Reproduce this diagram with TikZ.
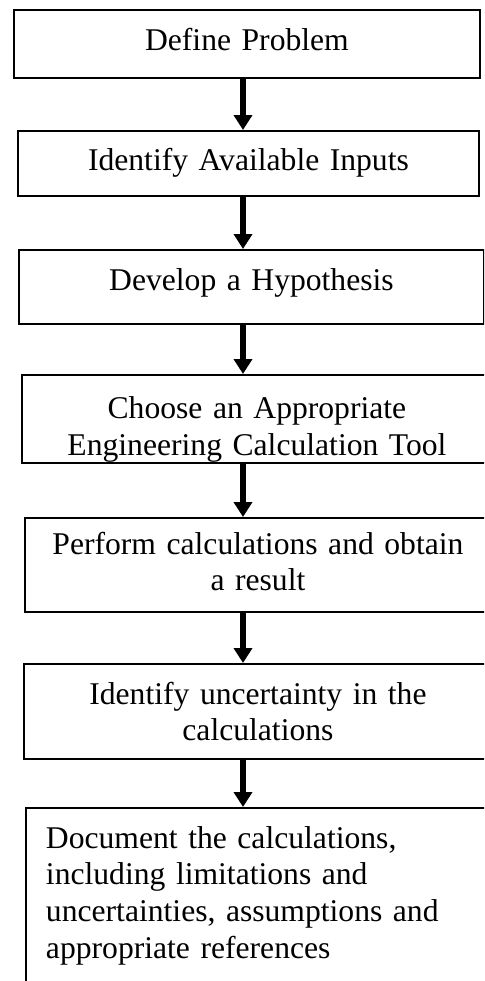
\documentclass[tikz,border=0pt]{standalone}
\usepackage{fontspec}
\setmainfont{Liberation Serif}
\usetikzlibrary{arrows.meta}

\begin{document}
\begin{tikzpicture}[x=0.02cm, y=-0.02cm, >={Triangle[width=0.36cm, length=0.30cm]},
stepbox/.style={draw, line width=0.04cm, rectangle, anchor=north west, inner sep=0pt, align=center, font=\fontsize{18}{20.9}\selectfont},
flowarrow/.style={->, line width=0.12cm}]

\useasboundingbox (0, 0) rectangle (484, 981);
\clip (0, 0) rectangle (484, 981);
\coordinate (spine) at (243, 0);

\node[stepbox, text width=9.32cm, text height=0.82cm, text depth=0.54cm] (define) at (13, 9) {Define Problem};
\node[stepbox, text width=9.22cm, text height=0.80cm, text depth=0.50cm] (inputs) at (17, 130) {Identify Available Inputs};
\node[stepbox, text width=9.30cm, text height=0.82cm, text depth=0.66cm] (hypothesis) at (18, 249) {Develop a Hypothesis};

% second line is cut by the lower edge
\node[stepbox, minimum width=9.40cm, minimum height=1.76cm, path picture={
\node[anchor=north, inner sep=0pt, align=center, text width=9.40cm, text height=0.82cm, font=\fontsize{18}{20.9}\selectfont] (tooltext) at (path picture bounding box.north) {Choose an Appropriate\\Engineering Calculation Tool};
}] (tool) at (21, 374) {};

\node[stepbox, text width=9.32cm, text height=0.72cm, text depth=1.16cm] (perform) at (24, 517) {Perform calculations and obtain\\a result};
\node[stepbox, text width=9.36cm, text height=0.80cm, text depth=1.10cm] (uncertainty) at (23, 663) {Identify uncertainty in the\\calculations};
\node[stepbox, align=left, inner xsep=0.4cm, text width=8.8cm, text height=0.80cm, text depth=5cm] (document) at (25, 807) {Document the calculations,\\including limitations and\\uncertainties, assumptions and\\appropriate references};

\draw[flowarrow] (define.south -| spine) -- (inputs.north -| spine);
\draw[flowarrow] (inputs.south -| spine) -- (hypothesis.north -| spine);
\draw[flowarrow] (hypothesis.south -| spine) -- (tool.north -| spine);
\draw[flowarrow] (tool.south -| spine) -- (perform.north -| spine);
\draw[flowarrow] (perform.south -| spine) -- (uncertainty.north -| spine);
\draw[flowarrow] (uncertainty.south -| spine) -- (document.north -| spine);

\end{tikzpicture}
\end{document}
